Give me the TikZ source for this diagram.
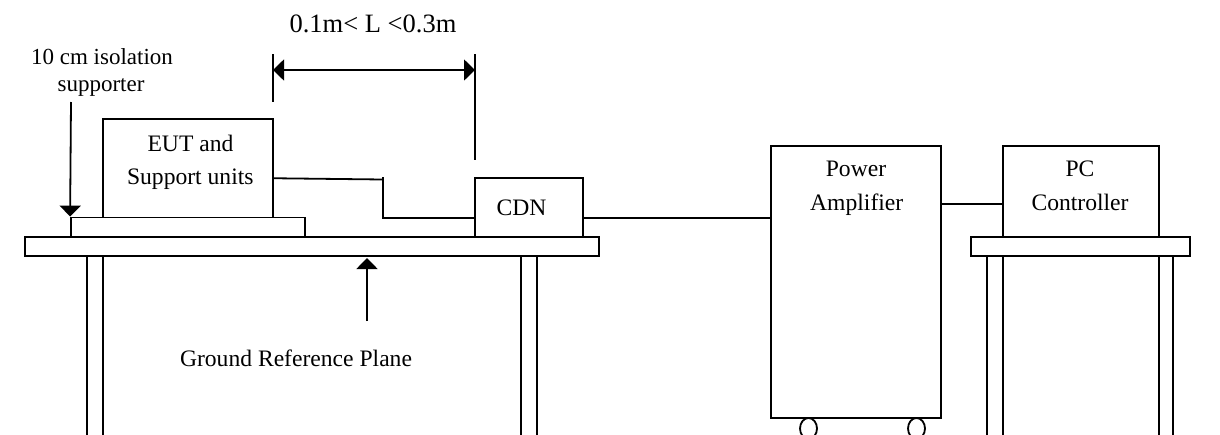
\documentclass[tikz,border=0pt]{standalone}
\usepackage{fontspec}
\setmainfont{Liberation Serif}
\usetikzlibrary{arrows.meta}
\begin{document}
\begin{tikzpicture}[x=1pt,y=-1pt, line width=1.8pt,
  box/.style={draw, rectangle, inner sep=0pt, fill=white},
  lbl/.style={inner sep=0pt, anchor=base, font=\fontsize{23.6}{28}\selectfont},
  tip/.style={-{Triangle[length=11pt,width=21pt]}},
  twotip/.style={{Triangle[length=11pt,width=21pt]}-{Triangle[length=11pt,width=21pt]}},
  cable/.style={draw, line width=1.8pt}]
\useasboundingbox (0,0) rectangle (1220,434);
% legs
\foreach \lx in {87,103,521,537,987,1003,1159,1173}
  \draw (\lx,255.7) -- (\lx,436);
% tables and boxes
\node[box, minimum width=574pt, minimum height=18.4pt] (table1) at (312,246.5) {};
\node[box, minimum width=219pt, minimum height=18.4pt] (table2) at (1080.5,246.5) {};
\node[box, minimum width=234pt, minimum height=19.8pt] (supp) at (188,227.4) {};
\node[box, minimum width=170pt, minimum height=98.5pt] (eut) at (188,168.25) {};
\node[box, minimum width=108pt, minimum height=59.3pt] (cdn) at (529,207.65) {};
\node[box, minimum width=170pt, minimum height=272pt] (pa) at (856,281.7) {};
\node[box, minimum width=156pt, minimum height=91.6pt] (pc) at (1081,191.5) {};
% wheels
\draw (808.5,428.5) ellipse [x radius=8.5, y radius=10.5];
\draw (916.5,428.5) ellipse [x radius=8.5, y radius=10.5];
% texts
\node[lbl] (t1) at (190.5,151.7) {EUT and};
\node[lbl] (t2) at (190.3,184.3) {Support units};
\node[lbl] (t3) at (521.5,215) {CDN};
\node[lbl] (t4) at (856,176.7) {Power};
\node[lbl] (t5) at (856.7,210) {Amplifier};
\node[lbl] (t6) at (1080,176.7) {PC};
\node[lbl] (t7) at (1080,210) {Controller};
\node[lbl] (t8) at (296,366) {Ground Reference Plane};
\node[lbl, font=\fontsize{23}{28}\selectfont] (t9) at (102,64) {10 cm isolation};
\node[lbl, font=\fontsize{23}{28}\selectfont] (t10) at (101,91.7) {supporter};
\node[lbl, font=\fontsize{26.5}{30}\selectfont] (t11) at (373,32.3) {0.1m< L <0.3m};
% cables
\coordinate (b1) at (383,179.5);
\coordinate (b2) at (383,218);
\coordinate (b0) at (383,177);
\draw ([yshift=-10pt]eut.east) -- (b1);
\draw (b0) -- (b2) -- (b2 -| cdn.west);
\draw ([yshift=-10.5pt]cdn.east) -- ([yshift=-10.5pt]cdn.east -| pa.west);
\draw ([yshift=-12.5pt]pc.west) -- ([yshift=-12.5pt]pc.west -| pa.east);
% dimension
\coordinate (dl1) at (273,54); \coordinate (dl2) at (273,102);
\coordinate (dr1) at (475,54); \coordinate (dr2) at (475,160);
\draw (dl1) -- (dl2);
\draw (dr1) -- (dr2);
\coordinate (al) at (273,70); \coordinate (ar) at (475,70);
\draw[twotip] (al) -- (ar);
% isolation arrow
\coordinate (iso0) at (71,102);
\draw[tip] (iso0) -- (supp.north west);
% ground arrow
\coordinate (g0) at (367,321);
\coordinate (g1) at (367,258);
\draw[tip] (g0) -- (g1);
\end{tikzpicture}
\end{document}
